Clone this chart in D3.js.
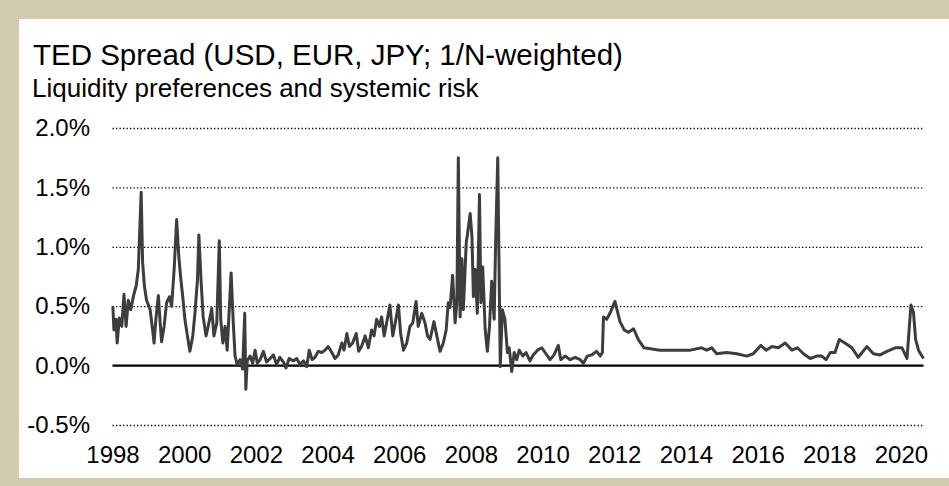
<!DOCTYPE html>
<html>
<head>
    <script src="https://d3js.org/d3.v7.min.js"></script>
    <style>
        body {
            margin: 0;
            background-color: white;
        }

        svg text {
            font-family: 'Liberation Sans', Arial, sans-serif;
            fill: #000;
        }
    </style>
</head>

<body>
    <svg id="chart" width="949" height="486"></svg>
    <script>
        // TED spread, 1/N weighted over USD, EUR, JPY (values in %)
        var years = [
            1998.01, 1998.04, 1998.10, 1998.13, 1998.19, 1998.26, 1998.32, 1998.38, 1998.44, 1998.51,
            1998.58, 1998.66, 1998.72, 1998.80, 1998.84, 1998.89, 1998.95, 1999.05, 1999.12, 1999.16,
            1999.21, 1999.28, 1999.33, 1999.37, 1999.44, 1999.51, 1999.59, 1999.65, 1999.72, 1999.79,
            1999.85, 1999.90, 1999.96, 2000.02, 2000.09, 2000.16, 2000.24, 2000.30, 2000.37, 2000.41,
            2000.47, 2000.53, 2000.61, 2000.67, 2000.77, 2000.83, 2000.91, 2000.98, 2001.02, 2001.08,
            2001.14, 2001.20, 2001.31, 2001.37, 2001.42, 2001.48, 2001.56, 2001.63, 2001.69, 2001.72,
            2001.76, 2001.84, 2001.91, 2001.98, 2002.04, 2002.12, 2002.21, 2002.30, 2002.40, 2002.49,
            2002.58, 2002.67, 2002.77, 2002.84, 2002.93, 2003.05, 2003.14, 2003.23, 2003.33, 2003.42,
            2003.49, 2003.57, 2003.65, 2003.74, 2003.84, 2003.93, 2004.02, 2004.12, 2004.21, 2004.30,
            2004.40, 2004.46, 2004.54, 2004.61, 2004.70, 2004.80, 2004.87, 2004.95, 2005.05, 2005.14,
            2005.23, 2005.30, 2005.37, 2005.45, 2005.51, 2005.58, 2005.65, 2005.74, 2005.82, 2005.89,
            2005.98, 2006.04, 2006.12, 2006.21, 2006.30, 2006.38, 2006.47, 2006.53, 2006.63, 2006.72,
            2006.79, 2006.86, 2006.97, 2007.05, 2007.14, 2007.23, 2007.31, 2007.37, 2007.42, 2007.49,
            2007.56, 2007.61, 2007.65, 2007.70, 2007.75, 2007.79, 2007.87, 2007.92, 2007.98, 2008.03,
            2008.07, 2008.12, 2008.18, 2008.24, 2008.28, 2008.33, 2008.40, 2008.46, 2008.52, 2008.58,
            2008.65, 2008.69, 2008.75, 2008.82, 2008.88, 2008.95, 2009.02, 2009.07, 2009.14, 2009.21,
            2009.28, 2009.35, 2009.45, 2009.54, 2009.65, 2009.74, 2009.86, 2009.98, 2010.07, 2010.21,
            2010.32, 2010.44, 2010.51, 2010.63, 2010.77, 2010.91, 2011.05, 2011.14, 2011.25, 2011.37,
            2011.51, 2011.61, 2011.67, 2011.70, 2011.79, 2011.88, 2012.02, 2012.16, 2012.28, 2012.40,
            2012.54, 2012.67, 2012.83, 2013.05, 2013.28, 2013.65, 2014.12, 2014.44, 2014.58, 2014.72,
            2014.86, 2015.14, 2015.42, 2015.70, 2015.88, 2016.09, 2016.24, 2016.40, 2016.58, 2016.77,
            2016.96, 2017.11, 2017.28, 2017.47, 2017.65, 2017.79, 2017.91, 2018.03, 2018.16, 2018.28,
            2018.49, 2018.63, 2018.81, 2019.05, 2019.23, 2019.42, 2019.61, 2019.84, 2020.03, 2020.17,
            2020.28, 2020.35, 2020.41, 2020.49, 2020.63
        ];
        var spread = [
            0.50, 0.30, 0.39, 0.19, 0.40, 0.33, 0.60, 0.33, 0.55, 0.47,
            0.58, 0.67, 0.81, 1.46, 0.87, 0.67, 0.55, 0.47, 0.30, 0.19,
            0.39, 0.59, 0.36, 0.20, 0.33, 0.53, 0.58, 0.50, 0.81, 1.23,
            0.92, 0.75, 0.58, 0.39, 0.25, 0.12, 0.25, 0.44, 0.72, 1.10,
            0.72, 0.41, 0.25, 0.33, 0.48, 0.25, 0.36, 1.05, 0.39, 0.19,
            0.33, 0.13, 0.78, 0.36, 0.08, 0.01, 0.05, -0.03, 0.44, -0.20,
            0.04, 0.08, 0.02, 0.13, 0.02, 0.05, 0.12, 0.03, 0.06, 0.09,
            0.01, 0.07, 0.03, -0.02, 0.06, 0.04, 0.06, 0.01, 0.04, -0.01,
            0.13, 0.05, 0.07, 0.12, 0.11, 0.13, 0.16, 0.11, 0.06, 0.09,
            0.19, 0.13, 0.27, 0.16, 0.19, 0.27, 0.12, 0.16, 0.25, 0.15,
            0.30, 0.25, 0.39, 0.33, 0.41, 0.25, 0.36, 0.51, 0.25, 0.36,
            0.51, 0.27, 0.13, 0.19, 0.33, 0.36, 0.54, 0.33, 0.44, 0.36,
            0.25, 0.22, 0.37, 0.25, 0.12, 0.19, 0.30, 0.53, 0.49, 0.76,
            0.36, 0.53, 1.75, 0.41, 0.90, 0.47, 1.03, 1.14, 1.28, 1.09,
            0.58, 0.81, 0.44, 1.44, 0.53, 0.83, 0.30, 0.12, 0.33, 0.71,
            0.39, 1.03, 1.75, -0.01, 0.47, 0.39, 0.11, 0.15, -0.05, 0.11,
            0.05, 0.13, 0.08, 0.11, 0.04, 0.09, 0.13, 0.15, 0.11, 0.05,
            0.09, 0.17, 0.05, 0.08, 0.05, 0.07, 0.05, 0.02, 0.08, 0.09,
            0.12, 0.08, 0.11, 0.41, 0.39, 0.44, 0.54, 0.37, 0.30, 0.28,
            0.31, 0.22, 0.15, 0.14, 0.13, 0.13, 0.13, 0.15, 0.13, 0.15,
            0.10, 0.11, 0.10, 0.08, 0.10, 0.17, 0.13, 0.16, 0.15, 0.19,
            0.13, 0.15, 0.10, 0.06, 0.08, 0.08, 0.05, 0.11, 0.11, 0.22,
            0.18, 0.15, 0.07, 0.16, 0.10, 0.09, 0.12, 0.15, 0.15, 0.06,
            0.51, 0.45, 0.22, 0.13, 0.06
        ];
        var yTicks = [-0.5, 0, 0.5, 1.0, 1.5, 2.0];
        var xTicks = [1998, 2000, 2002, 2004, 2006, 2008, 2010, 2012, 2014, 2016, 2018, 2020];
        var title = 'TED Spread (USD, EUR, JPY; 1/N-weighted)';
        var subtitle = 'Liquidity preferences and systemic risk';

        var svg = d3.select('#chart');
        var plotLeft = 112.5, plotRight = 923.5, plotTop = 128, plotBottom = 425;

        // beige frame with white panel
        svg.append('rect')
            .attr('width', 949).attr('height', 486)
            .attr('fill', '#d3cbb0');
        svg.append('rect')
            .attr('x', 19).attr('y', 19)
            .attr('width', 930).attr('height', 459)
            .attr('fill', '#fff');

        svg.append('text')
            .attr('x', 33).attr('y', 65)
            .style('font-size', '29.5px')
            .text(title);
        svg.append('text')
            .attr('x', 32).attr('y', 97)
            .style('font-size', '26px')
            .text(subtitle);

        var x = d3.scaleLinear()
            .domain([1998, 2020.63])
            .range([plotLeft, plotRight]);
        var y = d3.scaleLinear()
            .domain([-0.5, 2.0])
            .range([plotBottom, plotTop]);

        // dotted gridlines + percent labels
        var yAxis = d3.axisLeft(y)
            .tickValues(yTicks)
            .tickSizeInner(-(plotRight - plotLeft))
            .tickSizeOuter(0)
            .tickPadding(22.5)
            .tickFormat(function (d) { return d.toFixed(1) + '%'; });

        var gy = svg.append('g')
            .attr('transform', 'translate(' + plotLeft + ',0)')
            .call(yAxis);
        gy.select('.domain').remove();
        gy.selectAll('line')
            .attr('stroke', '#000')
            .attr('stroke-width', 1.3)
            .attr('stroke-dasharray', '1.3,2.2');
        gy.selectAll('text')
            .style('font-size', '24px')
            .attr('fill', '#000');
        gy.selectAll('.tick').filter(function (d) { return d === 0; })
            .select('line').remove();

        // zero line
        svg.append('line')
            .attr('x1', plotLeft).attr('x2', plotRight)
            .attr('y1', y(0)).attr('y2', y(0))
            .attr('stroke', '#000')
            .attr('stroke-width', 2.2);

        var xAxis = d3.axisBottom(x)
            .tickValues(xTicks)
            .tickSize(0)
            .tickPadding(21)
            .tickFormat(d3.format('d'));

        var gx = svg.append('g')
            .attr('transform', 'translate(0,' + plotBottom + ')')
            .call(xAxis);
        gx.select('.domain').remove();
        gx.selectAll('text')
            .style('font-size', '24px')
            .attr('fill', '#000');

        var points = years.map(function (d, i) { return [d, spread[i]]; });
        var line = d3.line()
            .x(function (d) { return x(d[0]); })
            .y(function (d) { return y(d[1]); });

        svg.append('path')
            .datum(points)
            .attr('d', line)
            .attr('fill', 'none')
            .attr('stroke', '#3d3d3b')
            .attr('stroke-width', 3)
            .attr('stroke-linejoin', 'round');
    </script>
</body>
</html>
